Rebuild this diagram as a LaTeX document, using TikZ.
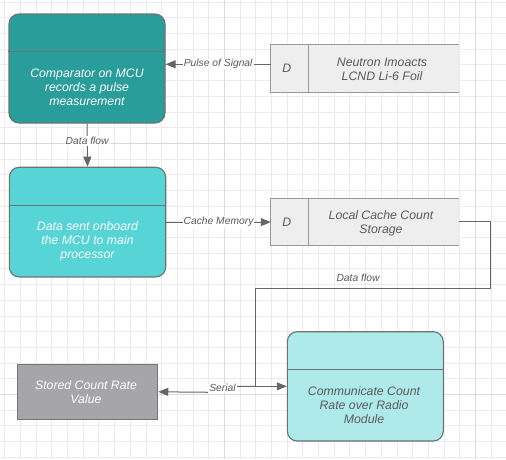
\documentclass[tikz,border=0pt]{standalone}
\usepackage{fontspec}
\setmainfont{Liberation Sans}
\usetikzlibrary{arrows.meta}
\definecolor{gridminor}{HTML}{EBEBEB}
\definecolor{gridmajor}{HTML}{DADADA}
\definecolor{tealdark}{HTML}{289D9A}
\definecolor{tealmid}{HTML}{56D4D6}
\definecolor{teallight}{HTML}{AEEAEA}
\definecolor{storedgray}{HTML}{A6A6A9}
\definecolor{dfill}{HTML}{EDEEED}
\definecolor{dborder}{HTML}{999999}
\definecolor{boxborder}{HTML}{6A7272}
\definecolor{connc}{HTML}{666666}
\definecolor{txtgray}{HTML}{5A5A5A}
\tikzset{
  procbox/.style={draw=boxborder, line width=1.1pt, rounded corners=10pt, inner sep=0pt},
  sqbox/.style={draw=#1, line width=1.1pt, inner sep=0pt},
  dshape/.style={fill=dfill, draw=none, inner sep=0pt, minimum width=188pt, minimum height=47pt},
  dline/.style={draw=dborder, line width=1.1pt},
  hdrline/.style={draw=boxborder, line width=1pt},
  bodytext/.style={font=\fontsize{12.3}{14}\selectfont\itshape, align=center, inner sep=0pt},
  lbltext/.style={font=\fontsize{10.3}{12}\selectfont\itshape, text=txtgray, inner sep=1pt},
  conn/.style={draw=connc, line width=1pt, -{Triangle[length=10pt,width=8pt]}},
}
\begin{document}
\begin{tikzpicture}[x=1pt,y=-1pt]
\useasboundingbox (0,0) rectangle (506,459);
\fill[white] (0,0) rectangle (506,459);
% grid
\foreach \i in {0,...,32}{
  \pgfmathsetmacro{\xx}{4.7+15.69*\i}
  \draw[gridminor, line width=0.8pt] (\xx,0) -- (\xx,459);
}
\foreach \i in {0,...,29}{
  \pgfmathsetmacro{\yy}{2.1+15.69*\i}
  \draw[gridminor, line width=0.8pt] (0,\yy) -- (506,\yy);
}
\draw[gridmajor, line width=0.9pt] (224.36,0) -- (224.36,459);
\draw[gridmajor, line width=0.9pt] (475.4,0) -- (475.4,459);
\draw[gridmajor, line width=0.9pt] (0,143.3) -- (506,143.3);
\draw[gridmajor, line width=0.9pt] (0,394.4) -- (506,394.4);

% box 1
\node[procbox, fill=tealdark, minimum width=156pt, minimum height=109pt] (box1) at (87,68.5) {};
\draw[hdrline] (box1.west |- 0,51) -- (box1.east |- 0,51);
\node[bodytext, text=white] (t1) at (87,87.5) {Comparator on MCU\\records a pulse\\measurement};

% box 2
\node[procbox, fill=tealmid, minimum width=156.4pt, minimum height=109.7pt] (box2) at (87.5,222.1) {};
\draw[hdrline] (box2.west |- 0,205) -- (box2.east |- 0,205);
\node[bodytext, text=white] (t2) at (87.5,241.5) {Data sent onboard\\the MCU to main\\processor};

% box 3
\node[procbox, fill=teallight, minimum width=156pt, minimum height=109.3pt] (box3) at (365.3,386.35) {};
\draw[hdrline] (box3.west |- 0,369.3) -- (box3.east |- 0,369.3);
\node[bodytext, text=txtgray] (t3) at (364,405.5) {Communicate Count\\Rate over Radio\\Module};

% stored box
\node[sqbox=storedgray!70!black, fill=storedgray, minimum width=140.4pt, minimum height=55pt] (stored) at (87.5,391.8) {};
\node[bodytext, text=white] (t4) at (86,392.5) {Stored Count Rate\\Value};

% D box 1
\node[dshape] (d1) at (365,68.5) {};
\draw[dline] (d1.north east) -- (d1.north west) -- (d1.south west) -- (d1.south east);
\draw[dline] ([xshift=38pt]d1.north west) -- ([xshift=38pt]d1.south west);
\node[bodytext, text=txtgray] (d1l) at (286.7,68.5) {D};
\node[bodytext, text=txtgray] (d1t) at (382,69) {Neutron Imoacts\\LCND Li-6 Foil};

% D box 2
\node[dshape] (d2) at (365,221.8) {};
\draw[dline] (d2.north east) -- (d2.north west) -- (d2.south west) -- (d2.south east);
\draw[dline] ([xshift=38pt]d2.north west) -- ([xshift=38pt]d2.south west);
\node[bodytext, text=txtgray] (d2l) at (286.7,221.8) {D};
\node[bodytext, text=txtgray] (d2t) at (381,223) {Local Cache Count\\Storage};

% connectors
\draw[conn] ([yshift=4.2pt]d1.west) -- node[lbltext, fill=white] (lp) {Pulse of Signal} ([yshift=4.2pt]box1.east);
\draw[conn] (box1.south) -- node[lbltext, fill=white, pos=0.4] (ld1) {Data flow} (box2.north);
\draw[conn] (box2.east) -- node[lbltext, fill=white] (lc) {Cache Memory} (box2.east -| d2.west);
\coordinate (j) at (255.7,386.35);
\coordinate (c1) at (490.5,288.7);
\draw[conn] (d2.east) -| (c1) -| (j) -- (box3.west);
\node[lbltext] (ld2) at (358,277.5) {Data flow};
\draw[conn] (j) -- (232,386.35) -- (212,392.3) -- (stored.east);
\node[lbltext, fill=white] (ls) at (222.5,388.3) {Serial};
\end{tikzpicture}
\end{document}
